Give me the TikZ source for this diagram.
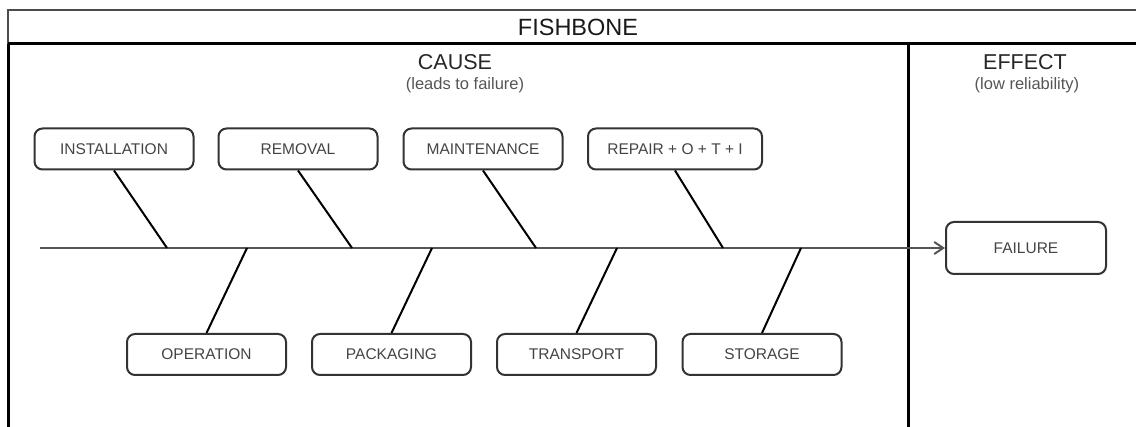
\documentclass[tikz,border=0pt]{standalone}
\usepackage{fontspec}
\setmainfont{Liberation Sans}
\usetikzlibrary{arrows.meta}
\definecolor{boxline}{HTML}{333333}
\definecolor{boxtext}{HTML}{444444}
\definecolor{subtext}{HTML}{555555}
\definecolor{spinecol}{HTML}{555555}
\begin{document}
\begin{tikzpicture}[x=1pt,y=-1pt,
  cause/.style={draw=boxline, line width=2pt, rounded corners=8pt, fill=white,
    minimum width=159pt, minimum height=41pt, inner sep=0pt,
    text=boxtext, font=\fontsize{15.5}{17}\selectfont},
  bone/.style={draw=black, line width=2pt},
  frame/.style={draw=black, line width=3pt},
  heading/.style={text=black!85, font=\fontsize{21.5}{24}\selectfont, inner sep=0pt},
  subheading/.style={text=subtext, font=\fontsize{16.5}{19}\selectfont, inner sep=0pt}]
\useasboundingbox (0,0) rectangle (1136,427);

% frame of the table
\draw[draw=black!70, line width=2pt] (8,440) -- (8,10) -- (1150,10);
\draw[frame] (8,44) -- (1150,44);
\draw[frame] (8,44) -- (8,440);
\draw[frame] (908,44) -- (908,440);

% headings
\node[inner sep=0pt, font=\fontsize{23.5}{26}\selectfont, text=black!90] (title) at (578,27) {FISHBONE};
\node[heading] (cause) at (455,62) {CAUSE};
\node[subheading] (causesub) at (465,85) {(leads to failure)};
\node[heading] (effect) at (1025,62) {EFFECT};
\node[subheading] (effectsub) at (1027,85) {(low reliability)};

% upper causes
\node[cause] (inst) at (114,149) {INSTALLATION};
\node[cause] (remo) at (298,149) {REMOVAL};
\node[cause] (main) at (483,149) {MAINTENANCE};
\node[cause, minimum width=174pt] (repa) at (675,149) {REPAIR + O + T + I};

% lower causes
\node[cause] (oper) at (206.5,354.5) {OPERATION};
\node[cause] (pack) at (391.5,354.5) {PACKAGING};
\node[cause] (tran) at (576.5,354.5) {TRANSPORT};
\node[cause] (stor) at (762,354.5) {STORAGE};

% effect
\node[cause, minimum width=160pt, minimum height=52pt] (fail) at (1026,248) {FAILURE};

% spine
\coordinate (tail) at (40,248);
\draw[draw=spinecol, line width=1.5pt,
  -{Straight Barb[length=9pt, width=12pt, line width=2pt]}] (tail) -- (fail.west);

% points where the bones meet the spine
\coordinate (s1) at (167,248);
\coordinate (s2) at (352,248);
\coordinate (s3) at (536,248);
\coordinate (s4) at (723,248);
\coordinate (t1) at (247,248);
\coordinate (t2) at (432,248);
\coordinate (t3) at (617,248);
\coordinate (t4) at (801,248);

% bones
\draw[bone] (inst.south) -- (s1);
\draw[bone] (remo.south) -- (s2);
\draw[bone] (main.south) -- (s3);
\draw[bone] (repa.south) -- (s4);
\draw[bone] (oper.north) -- (t1);
\draw[bone] (pack.north) -- (t2);
\draw[bone] (tran.north) -- (t3);
\draw[bone] (stor.north) -- (t4);
\end{tikzpicture}
\end{document}
